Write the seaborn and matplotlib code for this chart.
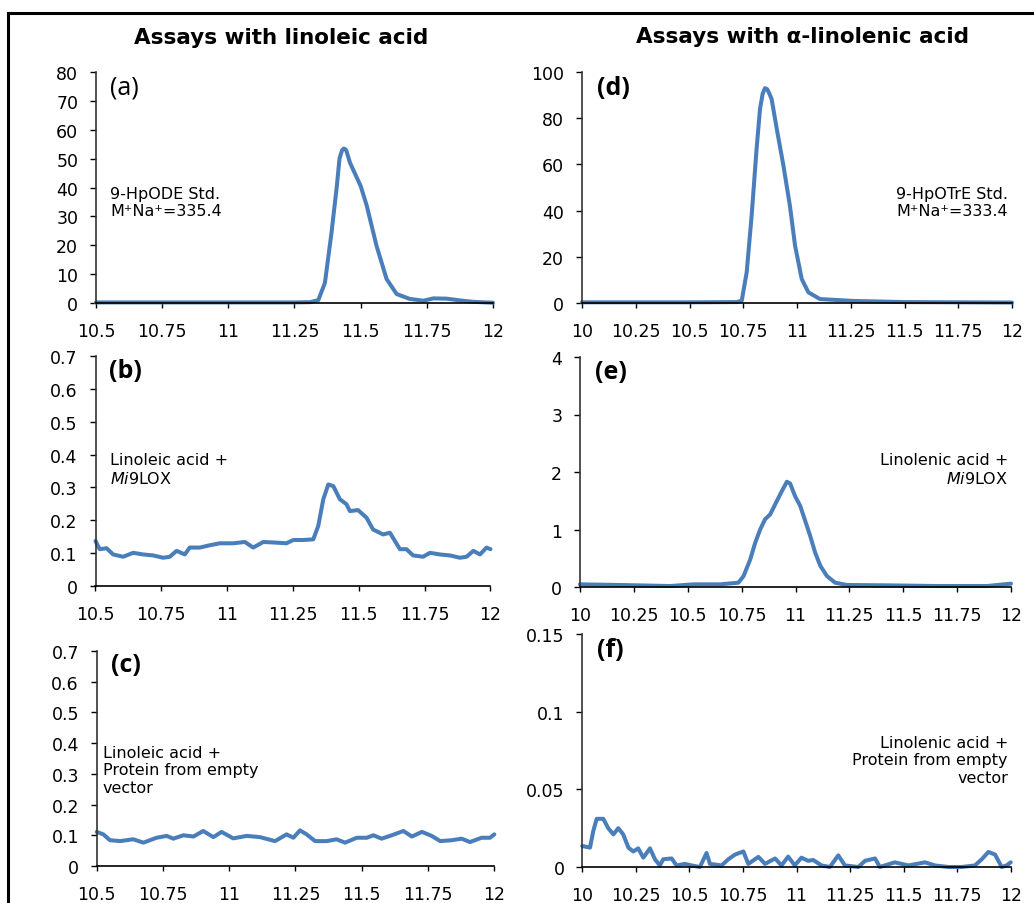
import pandas as pd
import seaborn as sns
import matplotlib.pyplot as plt
from matplotlib.patches import Rectangle

# (a) 9-HpODE standard
a_time = [10.5, 10.75, 11.0, 11.25, 11.31, 11.34, 11.365, 11.39, 11.41, 11.42, 11.43, 11.437,
          11.445, 11.46, 11.49, 11.50, 11.523, 11.56, 11.598, 11.636, 11.686, 11.737, 11.775,
          11.825, 11.875, 11.926, 12.0]
a_int = [0.2, 0.2, 0.2, 0.2, 0.3, 1.0, 7.0, 24.5, 40.5, 50.0, 53.0, 53.5,
         53.0, 48.5, 42.5, 40.5, 33.7, 19.8, 8.3, 3.1, 1.4, 0.8, 1.6,
         1.5, 0.9, 0.4, 0.1]

# (b) linoleic acid + Mi9LOX
b_time = [10.5, 10.516, 10.542, 10.567, 10.605, 10.643, 10.681, 10.719, 10.757, 10.782, 10.808,
          10.839, 10.858, 10.896, 10.934, 10.972, 11.023, 11.067, 11.099, 11.137, 11.187, 11.225,
          11.251, 11.289, 11.327, 11.346, 11.365, 11.384, 11.403, 11.428, 11.453, 11.466, 11.497,
          11.529, 11.554, 11.592, 11.618, 11.637, 11.656, 11.681, 11.706, 11.744, 11.770, 11.808,
          11.846, 11.884, 11.909, 11.935, 11.960, 11.985, 12.0]
b_int = [0.137, 0.112, 0.115, 0.096, 0.089, 0.101, 0.096, 0.093, 0.086, 0.089, 0.107,
         0.096, 0.117, 0.117, 0.124, 0.130, 0.130, 0.134, 0.117, 0.134, 0.132, 0.130,
         0.140, 0.140, 0.142, 0.183, 0.264, 0.309, 0.304, 0.264, 0.249, 0.228, 0.231,
         0.208, 0.172, 0.157, 0.162, 0.137, 0.112, 0.112, 0.093, 0.089, 0.101, 0.096,
         0.093, 0.086, 0.089, 0.107, 0.096, 0.117, 0.112]

# (c) linoleic acid + protein from empty vector
c_time = [10.5, 10.525, 10.55, 10.588, 10.638, 10.676, 10.726, 10.764, 10.789, 10.827, 10.865,
          10.902, 10.94, 10.971, 11.015, 11.066, 11.116, 11.173, 11.216, 11.242, 11.267, 11.292,
          11.324, 11.368, 11.405, 11.437, 11.481, 11.519, 11.544, 11.575, 11.613, 11.657, 11.689,
          11.727, 11.764, 11.796, 11.84, 11.877, 11.908, 11.952, 11.984, 12.0]
c_int = [0.111, 0.103, 0.084, 0.081, 0.087, 0.076, 0.092, 0.098, 0.089, 0.100, 0.096,
         0.114, 0.094, 0.111, 0.090, 0.098, 0.094, 0.081, 0.103, 0.092, 0.116, 0.103,
         0.081, 0.081, 0.087, 0.076, 0.092, 0.092, 0.100, 0.089, 0.100, 0.114, 0.096,
         0.111, 0.098, 0.081, 0.084, 0.089, 0.078, 0.092, 0.092, 0.103]

# (d) 9-HpOTrE standard
d_time = [10.0, 10.5, 10.72, 10.743, 10.766, 10.789, 10.812, 10.828, 10.84, 10.851, 10.862,
          10.872, 10.882, 10.906, 10.937, 10.967, 10.991, 11.022, 11.053, 11.107, 11.262, 11.5,
          12.0]
d_int = [0.3, 0.3, 0.4, 1.0, 13.3, 37.8, 66.7, 84.0, 90.5, 93.0, 92.5,
         90.5, 88.3, 75.3, 59.4, 42.1, 24.8, 10.4, 4.6, 1.7, 0.9, 0.4,
         0.2]

# (e) linolenic acid + Mi9LOX
e_time = [10.0, 10.186, 10.418, 10.526, 10.65, 10.735, 10.759, 10.79, 10.813, 10.836, 10.859,
          10.882, 10.906, 10.937, 10.96, 10.975, 10.998, 11.022, 11.045, 11.068, 11.091, 11.115,
          11.146, 11.184, 11.238, 11.424, 11.656, 11.889, 11.95, 12.0]
e_int = [0.046, 0.035, 0.017, 0.046, 0.046, 0.075, 0.19, 0.48, 0.77, 1.0, 1.18,
         1.26, 1.44, 1.67, 1.83, 1.80, 1.58, 1.41, 1.15, 0.89, 0.60, 0.37,
         0.19, 0.075, 0.035, 0.029, 0.017, 0.017, 0.04, 0.058]

# (f) linolenic acid + protein from empty vector
f_time = [10.0, 10.036, 10.051, 10.067, 10.098, 10.121, 10.145, 10.168, 10.191, 10.215, 10.238,
          10.261, 10.285, 10.316, 10.339, 10.362, 10.378, 10.417, 10.44, 10.479, 10.51, 10.549,
          10.58, 10.596, 10.65, 10.682, 10.713, 10.752, 10.775, 10.822, 10.853, 10.9, 10.93,
          10.961, 10.992, 11.023, 11.054, 11.078, 11.117, 11.156, 11.195, 11.226, 11.289, 11.32,
          11.367, 11.389, 11.459, 11.522, 11.6, 11.647, 11.709, 11.771, 11.833, 11.865, 11.896,
          11.927, 11.958, 11.981, 12.0]
f_int = [0.0135, 0.0125, 0.023, 0.031, 0.031, 0.025, 0.021, 0.025, 0.021, 0.0125, 0.010,
         0.012, 0.006, 0.012, 0.005, 0.001, 0.005, 0.0055, 0.001, 0.002, 0.001, 0.0,
         0.009, 0.002, 0.001, 0.005, 0.008, 0.010, 0.002, 0.0065, 0.002, 0.0055, 0.001,
         0.0067, 0.001, 0.006, 0.004, 0.0045, 0.001, 0.0, 0.0075, 0.001, 0.0, 0.004,
         0.0055, 0.0, 0.003, 0.001, 0.003, 0.001, 0.0, 0.0, 0.001, 0.005, 0.0097,
         0.008, 0.0, 0.001, 0.003]

left_ticks = [10.5, 10.75, 11, 11.25, 11.5, 11.75, 12]
left_tick_labels = ['10.5', '10.75', '11', '11.25', '11.5', '11.75', '12']
right_ticks = [10, 10.25, 10.5, 10.75, 11, 11.25, 11.5, 11.75, 12]
right_tick_labels = ['10', '10.25', '10.5', '10.75', '11', '11.25', '11.5', '11.75', '12']

sns.set_theme(style='white')
plt.rcParams['font.family'] = ['DejaVu Sans']
plt.rcParams['text.color'] = 'black'
plt.rcParams['xtick.color'] = 'black'
plt.rcParams['ytick.color'] = 'black'

W, H = 1034, 904
fig = plt.figure(figsize=(W / 100, H / 100), dpi=100)
line_color = '#4A7EBB'


def panel(box, time, inten, xticks, xlabels, yticks, ylabels, letter, bold_letter=True):
    left, top, right, bottom = box
    ax = fig.add_axes([left / W, 1 - bottom / H, (right - left) / W, (bottom - top) / H])
    df = pd.DataFrame({'time': time, 'intensity': inten})
    sns.lineplot(data=df, x='time', y='intensity', ax=ax, color=line_color,
                 linewidth=2.9, clip_on=False)
    ax.set_xlim(xticks[0], xticks[-1])
    ax.set_ylim(yticks[0], yticks[-1])
    ax.set_xticks(xticks)
    ax.set_xticklabels(xlabels)
    ax.set_yticks(yticks)
    ax.set_yticklabels(ylabels)
    ax.set_xlabel('')
    ax.set_ylabel('')
    for s in ['top', 'right']:
        ax.spines[s].set_visible(False)
    ax.spines['left'].set_color('#333333')
    ax.spines['bottom'].set_color('black')
    ax.spines['left'].set_linewidth(1.2)
    ax.spines['bottom'].set_linewidth(1.2)
    ax.tick_params(axis='x', direction='out', length=3.6, width=1, pad=10,
                   labelsize=12.5, colors='black', bottom=True)
    ax.tick_params(axis='y', direction='out', length=4.3, width=1, pad=8.5,
                   labelsize=12.5, colors='black', left=True)
    ax.text(0.035, 0.935, letter, transform=ax.transAxes, fontsize=18, color='black',
            family=['Open Sans', 'DejaVu Sans'],
            fontweight='bold' if bold_letter else 'normal', va='center', ha='left')
    ax.patch.set_alpha(0)
    return ax


ax_a = panel((96, 73, 493, 304), a_time, a_int, left_ticks, left_tick_labels,
             list(range(0, 90, 10)), [str(v) for v in range(0, 90, 10)], '(a)', False)
ax_b = panel((95.5, 357, 490.5, 587), b_time, b_int, left_ticks, left_tick_labels,
             [0, 0.1, 0.2, 0.3, 0.4, 0.5, 0.6, 0.7],
             ['0', '0.1', '0.2', '0.3', '0.4', '0.5', '0.6', '0.7'], '(b)')
ax_c = panel((96.7, 652, 494.3, 867), c_time, c_int, left_ticks, left_tick_labels,
             [0, 0.1, 0.2, 0.3, 0.4, 0.5, 0.6, 0.7],
             ['0', '0.1', '0.2', '0.3', '0.4', '0.5', '0.6', '0.7'], '(c)')
ax_d = panel((582, 73, 1012, 304), d_time, d_int, right_ticks, right_tick_labels,
             [0, 20, 40, 60, 80, 100], ['0', '20', '40', '60', '80', '100'], '(d)')
ax_e = panel((580, 358, 1011, 588), e_time, e_int, right_ticks, right_tick_labels,
             [0, 1, 2, 3, 4], ['0', '1', '2', '3', '4'], '(e)')
ax_f = panel((582.3, 635, 1010.7, 868), f_time, f_int, right_ticks, right_tick_labels,
             [0, 0.05, 0.1, 0.15], ['0', '0.05', '0.1', '0.15'], '(f)')

# annotations (figure pixel positions)
def note(x, y, s, ha='left'):
    fig.text(x / W, 1 - y / H, s, fontsize=11.5, ha=ha, va='top', linespacing=1.2,
             color='black')

note(110, 187, '9-HpODE Std.\nM\u207aNa\u207a=335.4')
note(110, 453, 'Linoleic acid +\n$\\it{Mi}$9LOX')
note(103, 746, 'Linoleic acid +\nProtein from empty\nvector')
note(1008, 187, '9-HpOTrE Std.\nM\u207aNa\u207a=333.4', ha='right')
note(1008, 453, 'Linolenic acid +\n$\\it{Mi}$9LOX', ha='right')
note(1008, 736, 'Linolenic acid +\nProtein from empty\nvector', ha='right')

fig.text(281 / W, 1 - 38 / H, 'Assays with linoleic acid', fontsize=15.5,
         fontweight='bold', ha='center', va='center', color='black')
fig.text(802 / W, 1 - 37 / H, 'Assays with \u03b1-linolenic acid', fontsize=15.5,
         fontweight='bold', ha='center', va='center', color='black')

# outer frame
fig.patches.append(Rectangle((7.5 / W, -0.1), 1.2, 1.1 - 14 / H, transform=fig.transFigure,
                             fill=False, edgecolor='black', linewidth=2.2))

fig.savefig('out.png', dpi=100)
